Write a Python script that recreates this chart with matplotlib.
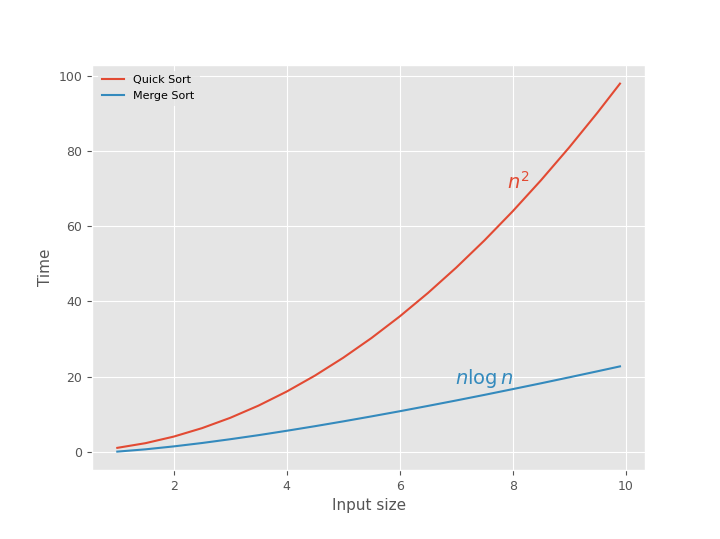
import matplotlib
matplotlib.use("Agg")
import matplotlib.pyplot as plt

plt.style.use("ggplot")

n = [1, 1.5, 2, 2.5, 3, 3.5, 4, 4.5, 5, 5.5, 6, 6.5, 7, 7.5, 8, 8.5, 9, 9.5, 9.9]
quick = [1, 2.25, 4, 6.25, 9, 12.25, 16, 20.25, 25, 30.25, 36, 42.25, 49, 56.25, 64, 72.25, 81, 90.25, 98.01]
merge = [0, 0.61, 1.39, 2.29, 3.30, 4.38, 5.55, 6.77, 8.05, 9.38, 10.75, 12.17, 13.62, 15.11, 16.64, 18.19, 19.78, 21.39, 22.70]

fig = plt.figure(figsize=(7.2, 5.39), dpi=100)
ax = fig.add_axes([0.128, 0.128, 0.768, 0.751])
ax.plot(n, quick, color="#E24A33", label="Quick Sort", lw=1.5)
ax.plot(n, merge, color="#348ABD", label="Merge Sort", lw=1.5)
ax.text(8.1, 70, r"$n^2$", color="#E24A33", fontsize=14, ha="center")
ax.text(7.5, 18, r"$n \log n$", color="#348ABD", fontsize=14, ha="center")
ax.set_xlabel("Input size", fontsize=11)
ax.set_ylabel("Time", fontsize=11)
ax.set_xticks([2, 4, 6, 8, 10])
ax.set_yticks([0, 20, 40, 60, 80, 100])
ax.tick_params(labelsize=9)
ax.legend(loc="upper left", fontsize=8, facecolor="#E5E5E5", edgecolor="#E5E5E5")
fig.savefig("out.png", dpi=100)
